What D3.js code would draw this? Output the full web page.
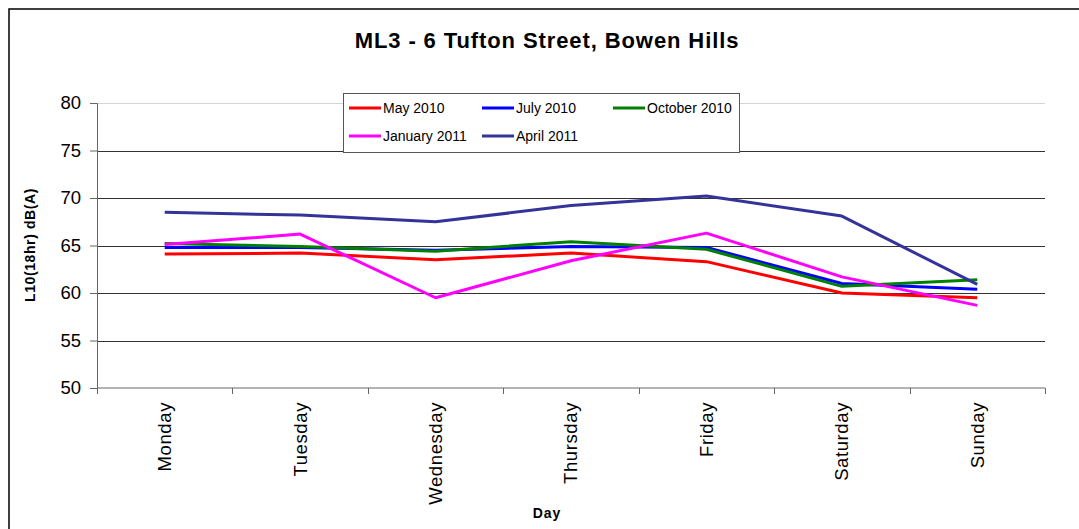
<!DOCTYPE html>
<html>
<head>
<meta charset="utf-8">
<script src="https://cdn.jsdelivr.net/npm/d3@7"></script>
<style>
  body { margin: 0; background: #fff; }
  svg { display: block; font-family: "Liberation Sans", Arial, sans-serif; }
</style>
</head>
<body>
<div id="chart"></div>
<script>
const days = ["Monday", "Tuesday", "Wednesday", "Thursday", "Friday", "Saturday", "Sunday"];
const seriesNames = ["May 2010", "July 2010", "October 2010", "January 2011", "April 2011"];
const seriesColors = ["#ff0000", "#0000ff", "#008000", "#ff00ff", "#333399"];
const may2010 = [64.1, 64.2, 63.5, 64.2, 63.3, 60.0, 59.5];
const july2010 = [64.8, 64.8, 64.5, 64.9, 64.8, 61.0, 60.4];
const october2010 = [65.2, 64.9, 64.4, 65.4, 64.6, 60.7, 61.4];
const january2011 = [65.1, 66.2, 59.5, 63.4, 66.3, 61.7, 58.7];
const april2011 = [68.5, 68.2, 67.5, 69.2, 70.2, 68.1, 60.9];
const yTicks = [50, 55, 60, 65, 70, 75, 80];

const values = [may2010, july2010, october2010, january2011, april2011];

const W = 1079, H = 529;
const plot = { left: 97, right: 1045, top: 103, bottom: 388 };

const svg = d3.select("#chart").append("svg")
    .attr("width", W)
    .attr("height", H);

// outer chart border (runs off the right/bottom edge like the original)
svg.append("rect")
    .attr("x", 9).attr("y", 9)
    .attr("width", W + 20).attr("height", H + 20)
    .attr("fill", "#fff")
    .attr("stroke", "#000")
    .attr("stroke-width", 1.5);

const xScale = d3.scaleBand().domain(days).range([plot.left, plot.right]);
const yScale = d3.scaleLinear().domain([50, 80]).range([plot.bottom, plot.top]);

// gridlines
svg.append("g")
    .selectAll("line")
    .data(yTicks.filter(t => t > 50))
    .join("line")
    .attr("x1", plot.left).attr("x2", plot.right)
    .attr("y1", d => Math.round(yScale(d)) + 0.5)
    .attr("y2", d => Math.round(yScale(d)) + 0.5)
    .attr("stroke", d => d === 80 ? "#d4d4d4" : "#333")
    .attr("stroke-width", 1);

// y axis
const yAxis = d3.axisLeft(yScale).tickValues(yTicks).tickSize(7).tickPadding(9);
const gy = svg.append("g").attr("transform", `translate(${plot.left},0)`).call(yAxis);
gy.select(".domain").attr("stroke", "#666");
gy.selectAll(".tick line").attr("stroke", "#666");
gy.selectAll("text")
    .attr("fill", "#000")
    .style("font-size", "18.5px")
    .style("font-family", "'Liberation Sans', Arial, sans-serif");

// x axis: ticks at category boundaries
const xAxis = d3.axisBottom(xScale).tickSize(0);
const gx = svg.append("g").attr("transform", `translate(0,${plot.bottom})`).call(xAxis);
gx.select(".domain").attr("stroke", "#666").attr("d", `M${plot.left},0H${plot.right}`);
gx.selectAll("text")
    .attr("transform", "rotate(-90)")
    .attr("x", -14)
    .attr("y", 0)
    .attr("dy", "0.35em")
    .style("text-anchor", "end")
    .attr("fill", "#000")
    .style("font-size", "18.5px")
    .style("letter-spacing", "0.6px")
    .style("font-family", "'Liberation Sans', Arial, sans-serif");

const bounds = days.map(d => xScale(d)).concat([plot.right]);
gx.append("g").selectAll("line")
    .data(bounds)
    .join("line")
    .attr("x1", d => Math.round(d) + 0.5).attr("x2", d => Math.round(d) + 0.5)
    .attr("y1", 0).attr("y2", 6)
    .attr("stroke", "#666");

// lines
const line = d3.line()
    .x((d, i) => xScale(days[i]) + xScale.bandwidth() / 2)
    .y(d => yScale(d));

svg.append("g")
    .selectAll("path")
    .data(values)
    .join("path")
    .attr("d", d => line(d))
    .attr("fill", "none")
    .attr("stroke", (d, i) => seriesColors[i])
    .attr("stroke-width", 3)
    .attr("stroke-linejoin", "round");

// title
svg.append("text")
    .attr("x", 547).attr("y", 48)
    .attr("text-anchor", "middle")
    .style("font-size", "22px")
    .style("letter-spacing", "0.9px")
    .style("font-weight", "bold")
    .text("ML3 - 6 Tufton Street, Bowen Hills");

// axis titles
svg.append("text")
    .attr("transform", "translate(35,245) rotate(-90)")
    .attr("text-anchor", "middle")
    .style("font-size", "14px")
    .style("letter-spacing", "0.6px")
    .style("font-weight", "bold")
    .text("L10(18hr) dB(A)");

svg.append("text")
    .attr("x", 547).attr("y", 518)
    .attr("text-anchor", "middle")
    .style("font-size", "14px")
    .style("letter-spacing", "1px")
    .style("font-weight", "bold")
    .text("Day");

// legend
const legend = svg.append("g");
legend.append("rect")
    .attr("x", 343.5).attr("y", 93.5)
    .attr("width", 396).attr("height", 59)
    .attr("fill", "#fff")
    .attr("stroke", "#555");

const legendPos = [[349, 108], [482, 108], [613, 108], [349, 136], [482, 136]];
seriesNames.forEach((name, i) => {
    const [lx, ly] = legendPos[i];
    legend.append("line")
        .attr("x1", lx).attr("x2", lx + 32)
        .attr("y1", ly).attr("y2", ly)
        .attr("stroke", seriesColors[i])
        .attr("stroke-width", 3);
    legend.append("text")
        .attr("x", lx + 34).attr("y", ly)
        .attr("dy", "0.36em")
        .style("font-size", "14px")
        .text(name);
});
</script>
</body>
</html>
